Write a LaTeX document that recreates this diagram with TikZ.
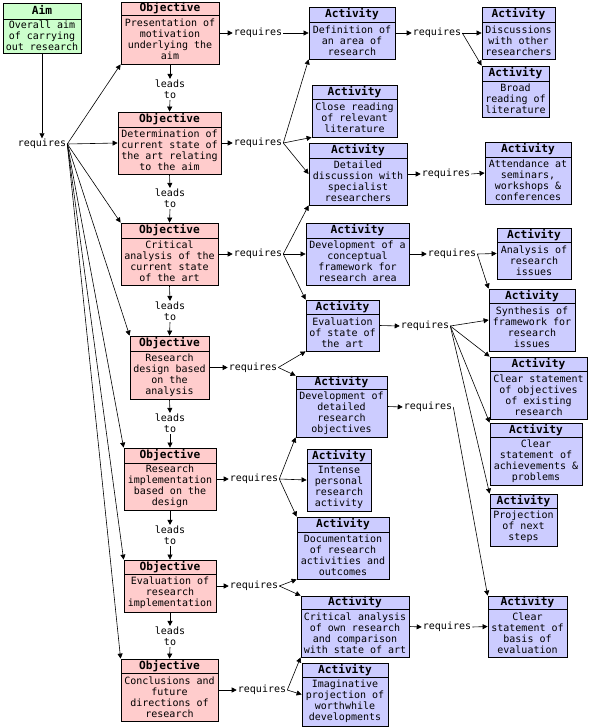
\documentclass[tikz,border=0pt]{standalone}
\usepackage{fontspec}
\setmonofont{DejaVu Sans Mono}
\usetikzlibrary{arrows.meta,fit}
\definecolor{objfill}{HTML}{FFCCCC}
\definecolor{actfill}{HTML}{CCCCFF}
\definecolor{aimfill}{HTML}{CCFFCC}
\newcommand\bodyfont{\ttfamily\fontsize{10}{11}\selectfont}
\newcommand\headfont{\ttfamily\bfseries\fontsize{11.2}{12}\selectfont}
\newcommand\dbox[9]{%
  \node[boxframe, fill=#2, fit={(#3,#4) (#5,#6)}] (#1) {};
  \draw[divider] (#3,#7) -- (#5,#7);
  \node[headtext] (#1h) at ({(#3+#5)/2},{(#4+#7)/2}) {#8};
  \node[bodytext] (#1b) at ({(#3+#5)/2},{(#7+#6)/2}) {#9};
}
\tikzset{
  boxframe/.style={draw, inner sep=0pt, line width=0.8pt},
  divider/.style={line width=0.8pt},
  headtext/.style={font=\headfont, inner sep=0pt, text height=8pt, text depth=2pt},
  bodytext/.style={font=\bodyfont, align=center, inner sep=0pt},
  lbl/.style={font=\bodyfont, inner sep=1pt, text height=7pt, text depth=2pt},
  leadlbl/.style={font=\bodyfont, align=center, inner sep=1pt},
  arr/.style={-{Triangle[length=5pt,width=5pt]}, line width=0.6pt},
}
\begin{document}
\begin{tikzpicture}[x=1pt,y=-1pt]
\fill[white] (0,0) rectangle (590,728);
\useasboundingbox (0,0) rectangle (590,728);
% Aim and objectives
\dbox{aim}{aimfill}{3}{3}{81}{53}{19}{Aim}{Overall aim\\of carrying\\out research}
\dbox{o1}{objfill}{121}{2}{219}{64}{15}{Objective}{Presentation of\\motivation\\underlying the\\aim}
\dbox{o2}{objfill}{118}{112}{221}{174}{127}{Objective}{Determination of\\current state of\\the art relating\\to the aim}
\dbox{o3}{objfill}{121}{223}{218}{285}{238}{Objective}{Critical\\analysis of the\\current state\\of the art}
\dbox{o4}{objfill}{130}{336}{209}{399}{351}{Objective}{Research\\design based\\on the\\analysis}
\dbox{o5}{objfill}{124}{448}{216}{510}{463}{Objective}{Research\\implementation\\based on the\\design}
\dbox{o6}{objfill}{124}{560}{216}{612}{574}{Objective}{Evaluation of\\research\\implementation}
\dbox{o7}{objfill}{121}{659}{218}{721}{673}{Objective}{Conclusions and\\future\\directions of\\research}
% Activities
\dbox{a1}{actfill}{309}{7}{395}{59}{22}{Activity}{Definition of\\an area of\\research}
\dbox{a2}{actfill}{482}{7}{555}{59}{22}{Activity}{Discussions\\with other\\researchers}
\dbox{a3}{actfill}{482}{66}{549}{117}{81}{Activity}{Broad\\reading of\\literature}
\dbox{a4}{actfill}{312}{85}{397}{137}{99}{Activity}{Close reading\\of relevant\\literature}
\dbox{a5}{actfill}{309}{143}{407}{205}{158}{Activity}{Detailed\\discussion with\\specialist\\researchers}
\dbox{a6}{actfill}{485}{142}{571}{204}{157}{Activity}{Attendance at\\seminars,\\workshops \&\\conferences}
\dbox{a7}{actfill}{306}{223}{409}{285}{238}{Activity}{Development of a\\conceptual\\framework for\\research area}
\dbox{a9}{actfill}{497}{228}{571}{279}{242}{Activity}{Analysis of\\research\\issues}
\dbox{a10}{actfill}{489}{289}{575}{351}{303}{Activity}{Synthesis of\\framework for\\research\\issues}
\dbox{a8}{actfill}{306}{300}{379}{351}{314}{Activity}{Evaluation\\of state of\\the art}
\dbox{a11}{actfill}{490}{357}{587}{419}{371}{Activity}{Clear statement\\of objectives\\of existing\\research}
\dbox{a15}{actfill}{296}{376}{387}{437}{389}{Activity}{Development of\\detailed\\research\\objectives}
\dbox{a12}{actfill}{490}{423}{582}{485}{437}{Activity}{Clear\\statement of\\achievements \&\\problems}
\dbox{a16}{actfill}{307}{449}{371}{511}{463}{Activity}{Intense\\personal\\research\\activity}
\dbox{a13}{actfill}{490}{494}{557}{546}{508}{Activity}{Projection\\of next\\steps}
\dbox{a17}{actfill}{297}{517}{389}{579}{532}{Activity}{Documentation\\of research\\activities and\\outcomes}
\dbox{a18}{actfill}{301}{596}{409}{657}{609}{Activity}{Critical analysis\\of own research\\and comparison\\with state of art}
\dbox{a14}{actfill}{488}{596}{567}{657}{609}{Activity}{Clear\\statement of\\basis of\\evaluation}
\dbox{a19}{actfill}{302}{663}{388}{726}{677}{Activity}{Imaginative\\projection of\\worthwhile\\developments}
% requires labels
\node[lbl] (r0) at (42,144) {requires};
\node[lbl] (r1) at (258,33) {requires};
\node[lbl] (r2) at (258,143) {requires};
\node[lbl] (r3) at (258,254) {requires};
\node[lbl] (r4) at (253,367.5) {requires};
\node[lbl] (r5) at (254,479) {requires};
\node[lbl] (r6) at (254,586) {requires};
\node[lbl] (r7) at (262,690) {requires};
\node[lbl] (ra1) at (437,33) {requires};
\node[lbl] (ra5) at (446,174) {requires};
\node[lbl] (ra7) at (452,254) {requires};
\node[lbl] (ra8) at (425,326) {requires};
\node[lbl] (ra15) at (428,407) {requires};
\node[lbl] (ra18) at (447,627) {requires};
% leads to labels
\node[leadlbl] (l1) at (170,89.5) {leads\\to};
\node[leadlbl] (l2) at (170,198.5) {leads\\to};
\node[leadlbl] (l3) at (170,311.5) {leads\\to};
\node[leadlbl] (l4) at (170,423.5) {leads\\to};
\node[leadlbl] (l5) at (170,535.5) {leads\\to};
\node[leadlbl] (l6) at (170,636.5) {leads\\to};
% leads-to arrows
\draw[arr] (o1.south) -- (l1.north);
\draw[arr] (l1.south) -- (o2.north);
\draw[arr] (o2.south) -- (l2.north);
\draw[arr] (l2.south) -- (o3.north);
\draw[arr] (o3.south) -- (l3.north);
\draw[arr] (l3.south) -- (o4.north);
\draw[arr] (o4.south) -- (l4.north);
\draw[arr] (l4.south) -- (o5.north);
\draw[arr] (o5.south) -- (l5.north);
\draw[arr] (l5.south) -- (o6.north);
\draw[arr] (o6.south) -- (l6.north);
\draw[arr] (l6.south) -- (o7.north);
% aim
\draw[arr] (aim.south) -- (r0.north);
\draw[arr] (r0.east) -- (o1.south west);
\draw[arr] (r0.east) -- (o2.west);
\draw[arr] (r0.east) -- (o3.north west);
\draw[arr] (r0.east) -- (o4.north west);
\draw[arr] (r0.east) -- (o5.north west);
\draw[arr] (r0.east) -- (o6.north west);
\draw[arr] (r0.east) -- (o7.north west);
% objective -> requires
\draw[arr] (o1.east) -- (r1.west);
\draw[arr] (o2.east) -- (r2.west);
\draw[arr] (o3.east) -- (r3.west);
\draw[arr] (o4.east) -- (r4.west);
\draw[arr] (o5.east) -- (r5.west);
\draw[arr] (o6.east) -- (r6.west);
\draw[arr] (o7.east) -- (r7.west);
\draw[arr] (a1.east) -- (ra1.west);
\draw[arr] (a5.east) -- (ra5.west);
\draw[arr] (a7.east) -- (ra7.west);
\draw[arr] (a8.east) -- (ra8.west);
\draw[arr] (a15.east) -- (ra15.west);
\draw[arr] (a18.east) -- (ra18.west);
% requires -> activities
\draw[arr] (r1.east) -- (a1.west);
\draw[arr] (ra1.east) -- (a2.west);
\draw[arr] (ra1.east) -- (a3.north west);
\draw[arr] (r2.east) -- (a1.south west);
\draw[arr] (r2.east) -- (a4.south west);
\draw[arr] (r2.east) -- (a5.west);
\draw[arr] (ra5.east) -- (a6.west);
\draw[arr] (r3.east) -- (a5.south west);
\draw[arr] (r3.east) -- (a7.west);
\draw[arr] (r3.east) -- (a8.north west);
\draw[arr] (ra7.east) -- (a9.west);
\draw[arr] (ra7.east) -- (a10.north west);
\draw[arr] (r4.east) -- (a8.south west);
\draw[arr] (r4.east) -- (a15.north west);
\draw[arr] (ra8.east) -- (a10.west);
\draw[arr] (ra8.east) -- (a11.north west);
\draw[arr] (ra8.east) -- (a12.north west);
\draw[arr] (ra8.east) -- (a13.north west);
\draw[arr] (ra15.east) -- (a14.north west);
\draw[arr] (r5.east) -- (a15.south west);
\draw[arr] (r5.east) -- (a16.west);
\draw[arr] (r5.east) -- (a17.north west);
\draw[arr] (r6.east) -- (a17.south west);
\draw[arr] (r6.east) -- (a18.north west);
\draw[arr] (ra18.east) -- (a14.west);
\draw[arr] (r7.east) -- (a18.south west);
\draw[arr] (r7.east) -- (a19.west);
\end{tikzpicture}
\end{document}
